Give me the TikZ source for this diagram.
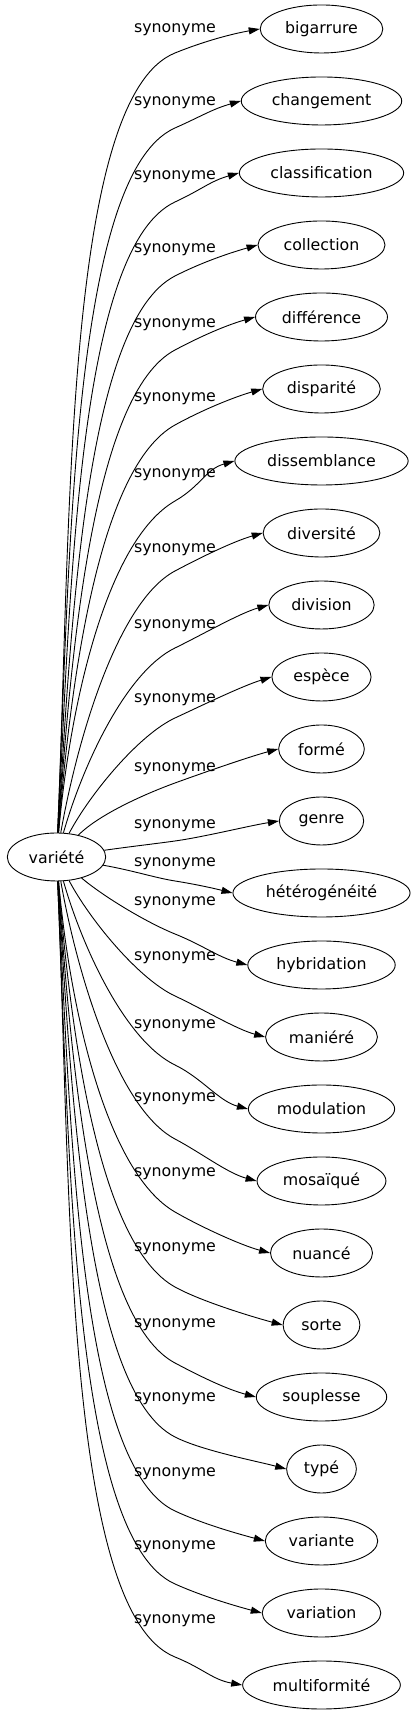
\documentclass[tikz,border=0pt]{standalone}
\usepackage{fontspec}
\setmainfont{DejaVu Sans}
\usetikzlibrary{arrows.meta, shapes.geometric}

\begin{document}
\begin{tikzpicture}[x=1pt, y=1pt,
    word/.style={draw, ellipse, line width=0.9pt, minimum height=48pt, inner xsep=7pt, inner ysep=2pt, font=\fontsize{15.8}{19}\selectfont},
    syn/.style={line width=0.9pt, -{Triangle[length=11pt, width=7pt]}},
    lbl/.style={inner sep=0pt, font=\fontsize{15.8}{19}\selectfont}]
    \useasboundingbox (0, 0) rectangle (415, 1715);
    \node[word] (variete) at (56.5, 858) {variété};
    % upper words
    \node[word] (bigarrure) at (321.5, 1686) {bigarrure};
    \node[word] (changement) at (321.5, 1614) {changement};
    \node[word] (classification) at (321.5, 1542) {classification};
    \node[word] (collection) at (321.5, 1470) {collection};
    \node[word] (difference) at (321.5, 1398) {différence};
    \node[word] (disparite) at (321.5, 1326) {disparité};
    \node[word] (dissemblance) at (321.5, 1254) {dissemblance};
    \node[word] (diversite) at (321.5, 1182) {diversité};
    \node[word] (division) at (321.5, 1110) {division};
    \node[word] (espece) at (321.5, 1038) {espèce};
    \node[word] (forme) at (321.5, 966) {formé};
    \node[word] (genre) at (321.5, 894) {genre};
    % lower words
    \node[word] (heterogeneite) at (321.5, 822) {hétérogénéité};
    \node[word] (hybridation) at (321.5, 750) {hybridation};
    \node[word] (maniere) at (321.5, 678) {maniéré};
    \node[word] (modulation) at (321.5, 606) {modulation};
    \node[word] (mosaique) at (321.5, 534) {mosaïqué};
    \node[word] (nuance) at (321.5, 462) {nuancé};
    \node[word] (sorte) at (321.5, 390) {sorte};
    \node[word] (souplesse) at (321.5, 318) {souplesse};
    \node[word] (type) at (321.5, 246) {typé};
    \node[word] (variante) at (321.5, 174) {variante};
    \node[word] (variation) at (321.5, 102) {variation};
    \node[word] (multiformite) at (321.5, 30) {multiformité};
    % labels
    \node[lbl] (syn1) at (175, 1685) {synonyme};
    \node[lbl] (syn2) at (175, 1612) {synonyme};
    \node[lbl] (syn3) at (175, 1538) {synonyme};
    \node[lbl] (syn4) at (175, 1465) {synonyme};
    \node[lbl] (syn5) at (175, 1390) {synonyme};
    \node[lbl] (syn6) at (175, 1316) {synonyme};
    \node[lbl] (syn7) at (175, 1240) {synonyme};
    \node[lbl] (syn8) at (175, 1165) {synonyme};
    \node[lbl] (syn9) at (175, 1089) {synonyme};
    \node[lbl] (syn10) at (175, 1015) {synonyme};
    \node[lbl] (syn11) at (175, 946) {synonyme};
    \node[lbl] (syn12) at (175, 889) {synonyme};
    \node[lbl] (syn13) at (175, 851) {synonyme};
    \node[lbl] (syn14) at (175, 812) {synonyme};
    \node[lbl] (syn15) at (175, 757) {synonyme};
    \node[lbl] (syn16) at (175, 689) {synonyme};
    \node[lbl] (syn17) at (175, 616) {synonyme};
    \node[lbl] (syn18) at (175, 541) {synonyme};
    \node[lbl] (syn19) at (175, 466) {synonyme};
    \node[lbl] (syn20) at (175, 390) {synonyme};
    \node[lbl] (syn21) at (175, 316) {synonyme};
    \node[lbl] (syn22) at (175, 241) {synonyme};
    \node[lbl] (syn23) at (175, 168) {synonyme};
    \node[lbl] (syn24) at (175, 94) {synonyme};
    % edges up
    \draw[syn] (variete) to[out=87.5, in=202, out distance=300, in distance=120] (175, 1662) to[out=22, in=190, out distance=30, in distance=30] (bigarrure.west);
    \draw[syn] (variete) to[out=87.5, in=204, out distance=271, in distance=113] (175, 1587) to[out=24, in=196, out distance=30, in distance=30] (changement.west);
    \draw[syn] (variete) to[out=87, in=205, out distance=242, in distance=107] (175, 1513) to[out=25, in=196, out distance=30, in distance=30] (classification.west);
    \draw[syn] (variete) to[out=86.5, in=207, out distance=212, in distance=100] (175, 1439) to[out=27, in=196, out distance=30, in distance=30] (collection.west);
    \draw[syn] (variete) to[out=86, in=208, out distance=183, in distance=93] (175, 1365) to[out=28, in=196, out distance=30, in distance=30] (difference.west);
    \draw[syn] (variete) to[out=85.5, in=209, out distance=154, in distance=87] (175, 1290) to[out=29, in=196, out distance=30, in distance=30] (disparite.west);
    \draw[syn] (variete) to[out=85, in=210, out distance=125, in distance=80] (175, 1214) to[out=30, in=196, out distance=30, in distance=30] (dissemblance.west);
    \draw[syn] (variete) to[out=80, in=208, out distance=95, in distance=65] (175, 1144) to[out=28, in=196, out distance=30, in distance=30] (diversite.west);
    \draw[syn] (variete) to[out=74, in=206, out distance=70, in distance=55] (175, 1067) to[out=26, in=196, out distance=30, in distance=30] (division.west);
    \draw[syn] (variete) to[out=62, in=205, out distance=45, in distance=40] (175, 997) to[out=25, in=197, out distance=30, in distance=30] (espece.west);
    \draw[syn] (variete) to[out=45, in=200, out distance=30, in distance=30] (175, 932) to[out=20, in=195, out distance=30, in distance=30] (forme.west);
    \draw[syn] (variete) to[out=8, in=188, out distance=30, in distance=20] (175, 874) to[out=8, in=189, out distance=30, in distance=30] (genre.west);
    % edges down
    \draw[syn] (variete) to[out=-10, in=171, out distance=30, in distance=20] (175, 834) to[out=-9, in=166, out distance=20, in distance=20] (heterogeneite.west);
    \draw[syn] (variete) to[out=-40, in=158, out distance=30, in distance=30] (175, 781) to[out=-22, in=165, out distance=30, in distance=30] (hybridation.west);
    \draw[syn] (variete) to[out=-62, in=155, out distance=45, in distance=40] (175, 719) to[out=-25, in=165, out distance=30, in distance=30] (maniere.west);
    \draw[syn] (variete) to[out=-74, in=154, out distance=70, in distance=55] (175, 650) to[out=-26, in=165, out distance=30, in distance=30] (modulation.west);
    \draw[syn] (variete) to[out=-80, in=152, out distance=95, in distance=65] (175, 576) to[out=-28, in=165, out distance=30, in distance=30] (mosaique.west);
    \draw[syn] (variete) to[out=-85, in=150, out distance=125, in distance=80] (175, 503) to[out=-30, in=165, out distance=30, in distance=30] (nuance.west);
    \draw[syn] (variete) to[out=-85.5, in=151, out distance=154, in distance=87] (175, 428) to[out=-29, in=165, out distance=30, in distance=30] (sorte.west);
    \draw[syn] (variete) to[out=-86, in=152, out distance=183, in distance=93] (175, 352) to[out=-28, in=165, out distance=30, in distance=30] (souplesse.west);
    \draw[syn] (variete) to[out=-86.5, in=153, out distance=212, in distance=100] (175, 278) to[out=-27, in=165, out distance=30, in distance=30] (type.west);
    \draw[syn] (variete) to[out=-87, in=155, out distance=242, in distance=107] (175, 204) to[out=-25, in=165, out distance=30, in distance=30] (variante.west);
    \draw[syn] (variete) to[out=-87.5, in=156, out distance=271, in distance=113] (175, 131) to[out=-24, in=165, out distance=30, in distance=30] (variation.west);
    \draw[syn] (variete) to[out=-87.5, in=158, out distance=300, in distance=120] (175, 58) to[out=-22, in=170, out distance=30, in distance=30] (multiformite.west);
\end{tikzpicture}
\end{document}
